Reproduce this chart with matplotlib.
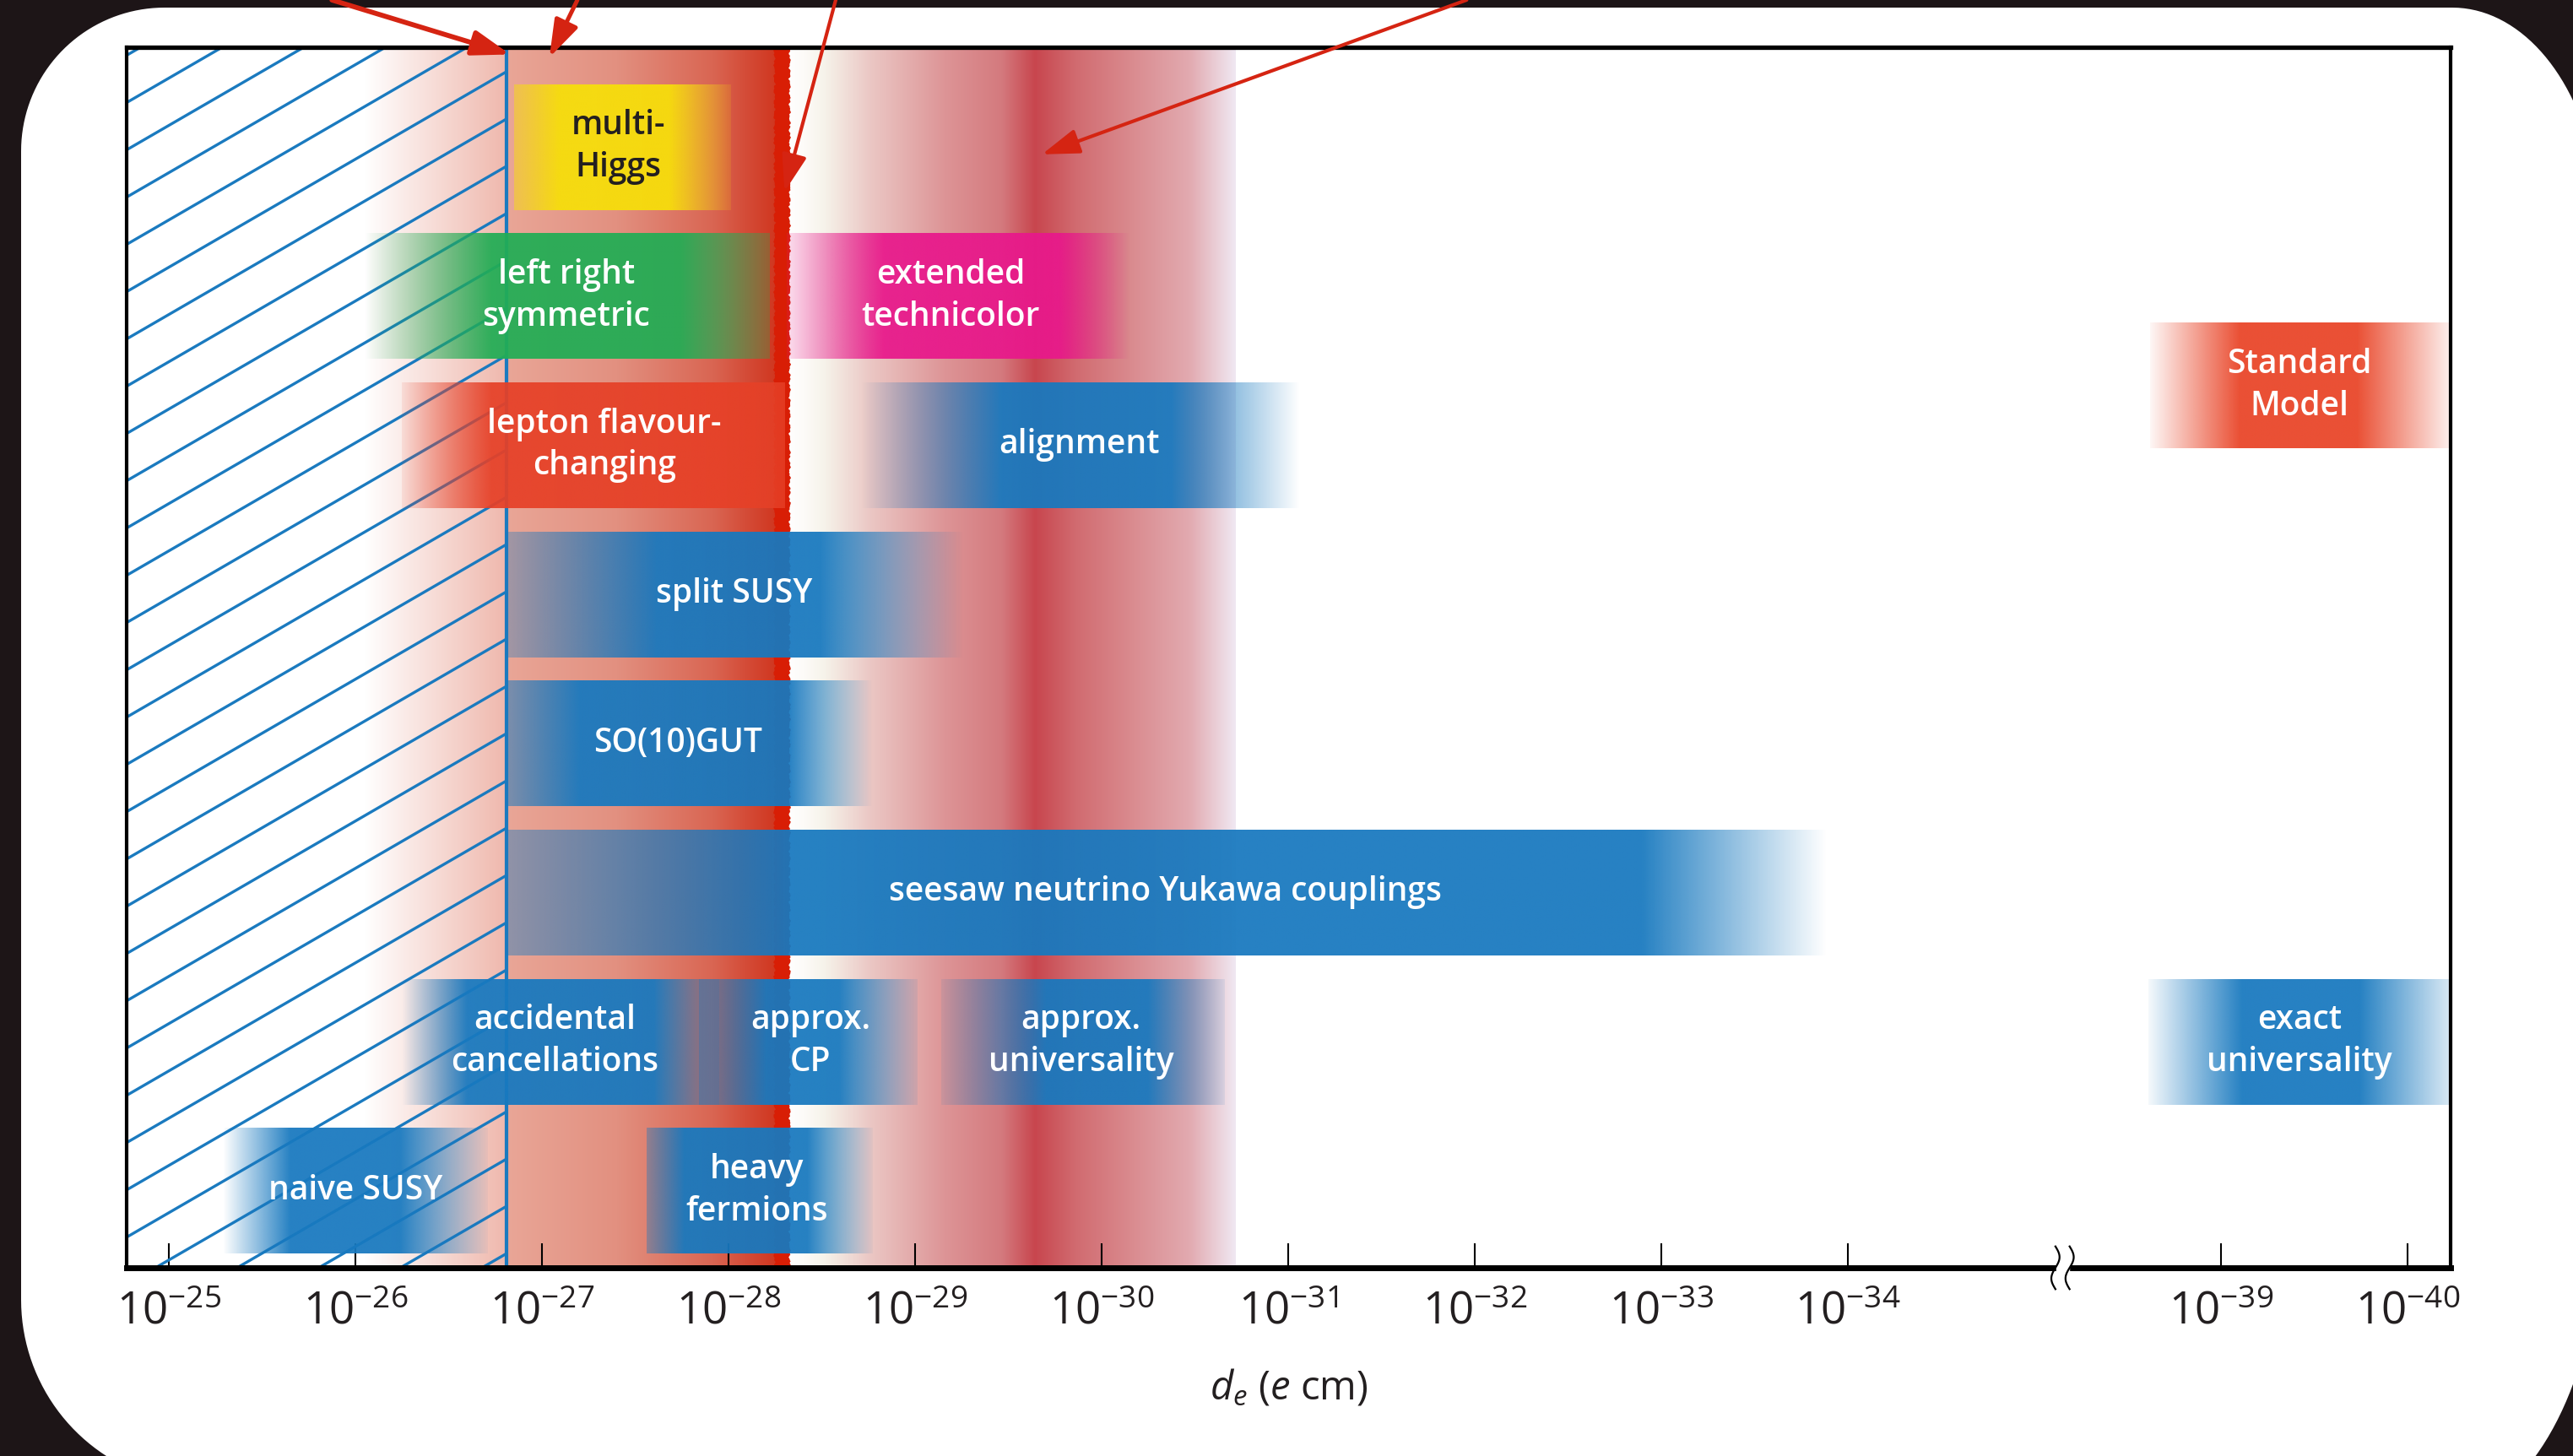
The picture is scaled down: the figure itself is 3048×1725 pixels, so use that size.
import numpy as np
import matplotlib.pyplot as plt
import matplotlib.transforms as mtransforms
from matplotlib.colors import to_rgb
from matplotlib.patches import PathPatch, Rectangle
from matplotlib.path import Path

plt.rcParams['font.family'] = ['Open Sans', 'DejaVu Sans']
plt.rcParams['mathtext.fontset'] = 'custom'
plt.rcParams['mathtext.rm'] = 'Open Sans'
plt.rcParams['mathtext.it'] = 'Open Sans:italic'
plt.rcParams['mathtext.bf'] = 'Open Sans:bold'

# x axis is -log10(d_e / e cm), with a break between 10^-34 and 10^-39
tick_exps = [25, 26, 27, 28, 29, 30, 31, 32, 33, 34, 39, 40]

# model bands: -log10 d_e where the band fades in, becomes solid, stops being solid, ends
models = ['multi-\nHiggs', 'left right\nsymmetric', 'extended\ntechnicolor', 'Standard\nModel',
          'lepton flavour-\nchanging', 'alignment', 'split SUSY', 'SO(10)GUT',
          'seesaw neutrino Yukawa couplings', 'accidental\ncancellations', 'approx.\nCP',
          'approx.\nuniversality', 'exact\nuniversality', 'naive SUSY', 'heavy\nfermions']
model_row = [0, 1, 1, 1.6, 2, 2, 3, 4, 5, 6, 6, 6, 6, 7, 7]
model_lo = [26.85, 26.05, 28.31, 38.62, 26.25, 28.71, 26.81, 26.81, 26.81, 26.25, 27.84, 29.14, 38.61, 25.29, 27.56]
model_lo_full = [27.09, 26.73, 28.83, 39.10, 26.73, 29.46, 27.62, 27.20, 28.32, 26.60, 28.20, 29.70, 39.11, 25.65, 27.76]
model_hi_full = [27.68, 27.74, 29.77, 39.73, 28.10, 30.37, 28.49, 28.32, 32.90, 27.60, 28.59, 30.25, 39.74, 26.24, 28.42]
model_hi = [28.01, 28.22, 30.15, 40.22, 28.30, 31.06, 29.26, 28.77, 33.89, 27.95, 29.01, 30.66, 40.24, 26.71, 28.77]
model_text_at = [27.41, 27.13, 29.19, 39.42, 27.335, 29.88, 28.03, 27.73, 30.34, 27.07, 28.44, 29.89, 39.42, 26.0, 28.15]
model_colors = ['#f7df0a', '#22ad55', '#e8198b', '#e94427', '#e64128', '#1879bf', '#1879bf', '#1879bf',
                '#1879bf', '#1879bf', '#1879bf', '#1879bf', '#1879bf', '#1879bf', '#1879bf']
edge_alpha_lo = [0.5, 0.0, 0.15, 0.05, 0.1, 0.0, 0.35, 0.55, 0.45, 0.0, 0.35, 0.1, 0.05, 0.0, 0.4]
edge_alpha_hi = [0.15, 0.35, 0.0, 0.1, 0.85, 0.0, 0.0, 0.0, 0.0, 0.2, 0.1, 0.1, 0.15, 0.05, 0.05]

# experimental limits / sensitivity
excluded_above = 26.81      # hatched region
current_limit = (28.255, 28.315)
salmon_x = [26.81, 27.4, 27.92, 28.09, 28.26]
salmon_c = ['#e9a697', '#e29080', '#d96552', '#d44c38', '#d0361f']
future_x = [28.31, 28.40, 28.51, 28.75, 29.16, 29.46, 29.64, 29.86, 30.17, 30.47, 30.715]
future_c = ['#ffffff', '#fdfbf8', '#f6f3ea', '#ebc8c5', '#dd9496', '#d47a7e', '#c8464e',
            '#d16b70', '#da8c90', '#e2aab0', '#f0e8f2']

# annotation arrows from above the frame
arrow_exp = [26.83, 27.04, 28.30, 29.68]
arrow_row = [-0.62, -0.60, 0.30, 0.05]
arrow_from = [0.129, 0.2244, 0.3248, 0.570]
arrow_lw = [4.2, 3.6, 3.0, 3.0]

BLUE = '#1a7abf'
INK = '#231f20'


def pos(e):
    e = np.asarray(e, dtype=float)
    return np.where(e < 36, e - 25, e - 28)


def strip(ax, xs, colors, alphas, y0, y1, z):
    xs = np.asarray(xs, dtype=float)
    grid = np.linspace(xs[0], xs[-1], 600)
    rgb = np.array([to_rgb(c) for c in colors])
    img = np.zeros((1, grid.size, 4))
    for i in range(3):
        img[0, :, i] = np.interp(grid, xs, rgb[:, i])
    img[0, :, 3] = np.interp(grid, xs, alphas)
    ax.imshow(img, extent=(xs[0], xs[-1], y1, y0), aspect='auto',
              interpolation='bilinear', zorder=z)


W, H = 3048, 1725
fig = plt.figure(figsize=(W / 100, H / 100), dpi=100)
fig.patch.set_facecolor('#1d1517')

# white rounded card behind the chart (pixel coords, y downwards)
def arc(cx, cy, rx, ry, t0, t1):
    t = np.linspace(t0, t1, 40)
    return np.column_stack([cx + rx * np.cos(t), cy + ry * np.sin(t)])

card = np.vstack([
    arc(195, 179, 170, 170, np.pi, 1.5 * np.pi),
    arc(2905, 269, 175, 260, 1.5 * np.pi, 2 * np.pi),
    arc(2880, 1450, 200, 350, 0, 0.5 * np.pi),
    arc(245, 1540, 220, 220, 0.5 * np.pi, np.pi),
])
card_in = np.column_stack([card[:, 0] / 100, (H - card[:, 1]) / 100])
fig.add_artist(PathPatch(Path(np.vstack([card_in, card_in[:1]]), closed=True),
                         facecolor='white', edgecolor='none',
                         transform=fig.dpi_scale_trans, zorder=-5))

ax = fig.add_axes([150 / W, 1 - 1502 / H, (2903 - 150) / W, (1502 - 56) / H])
ax.set_facecolor('white')
xlo, xhi = -0.226, 12.23
ytop, ybot = -0.668, 7.516

# background columns
strip(ax, pos([26.05, excluded_above]), ['#ffffff', '#efb8ad'], [1, 1], ytop, ybot, 1)
strip(ax, pos(salmon_x), salmon_c, [1] * len(salmon_x), ytop, ybot, 1)
strip(ax, pos(future_x), future_c, [1] * len(future_x), ytop, ybot, 1)

# present limit, drawn as a slightly ragged red stroke
yy = np.linspace(ytop, ybot, 900)
rag = 0.008 * np.abs(np.sin(yy * 37.0)) + 0.006 * np.abs(np.sin(yy * 91.0 + 1.0)) \
    + 0.004 * np.abs(np.sin(yy * 213.0 + 2.0))
ax.fill_betweenx(yy, float(pos(current_limit[0])) - rag,
                 float(pos(current_limit[1])) + rag[::-1], color='#d81e05', lw=0, zorder=1.5)

# hatching for the excluded region
edge = float(pos(excluded_above))
clip = Rectangle((xlo, ytop), edge - xlo, ybot - ytop, transform=ax.transData)
slope, gap = -0.7246, 0.317
for r in np.arange(3.19 - 13 * gap, 9.3, gap):
    ln, = ax.plot([xlo, edge], [r, r + slope * (edge - xlo)], color=BLUE, lw=2.4,
                  solid_capstyle='butt', zorder=2)
    ln.set_clip_path(clip)
ax.axvline(edge, color=BLUE, lw=3, zorder=2.2)

# model bands
half = 0.4216
for i, name in enumerate(models):
    xs = pos([model_lo[i], model_lo_full[i], model_hi_full[i], model_hi[i]])
    al = np.array([edge_alpha_lo[i], 1, 1, edge_alpha_hi[i]]) * 0.94
    r = model_row[i]
    strip(ax, xs, [model_colors[i]] * 4, al, r - half, r + half, 3)
    tc = INK if i == 0 else 'white'
    ax.text(float(pos(model_text_at[i])), r, name, ha='center', va='center',
            fontsize=28, fontweight='semibold', color=tc, linespacing=1.32, zorder=6)

# arrows
for e, r, xf, lw in zip(arrow_exp, arrow_row, arrow_from, arrow_lw):
    ax.annotate('', xy=(float(pos(e)), r), xycoords='data', xytext=(xf, 1.0),
                textcoords='figure fraction', annotation_clip=False, zorder=10,
                arrowprops=dict(arrowstyle='-|>,head_length=0.9,head_width=0.3',
                                color='#d52412', lw=lw, mutation_scale=30,
                                shrinkA=0, shrinkB=0))

ax.set_xlim(xlo, xhi)
ax.set_ylim(ybot, ytop)
ax.set_yticks([])
ax.set_xticks(pos(tick_exps), [r'$10^{-%d}$' % e for e in tick_exps])
ax.tick_params(axis='x', direction='in', length=21, width=1.5, labelsize=38, pad=19,
               colors='black', labelcolor=INK)
for side, lw in [('left', 3), ('right', 3), ('top', 3.8), ('bottom', 5)]:
    ax.spines[side].set_linewidth(lw)
    ax.spines[side].set_color('black')
    ax.spines[side].set_zorder(7)
ax.set_xlabel(r'$d_e$ ($e$ cm)', fontsize=34, color=INK, labelpad=28)

# axis break mark
trans = mtransforms.blended_transform_factory(ax.transData, ax.transAxes)
bx = 10.15
ax.add_patch(Rectangle((bx - 0.035, -0.01), 0.07, 0.02, transform=trans, color='white',
                       zorder=8, clip_on=False))
t = np.linspace(-1, 1, 60)
for dx in (-0.038, 0.038):
    ax.plot(bx + dx + 0.022 * np.sin(np.pi * t), 0.0175 * t, color='black', lw=1.6,
            transform=trans, clip_on=False, zorder=9)

fig.savefig('out.png', dpi=100, facecolor=fig.get_facecolor())
